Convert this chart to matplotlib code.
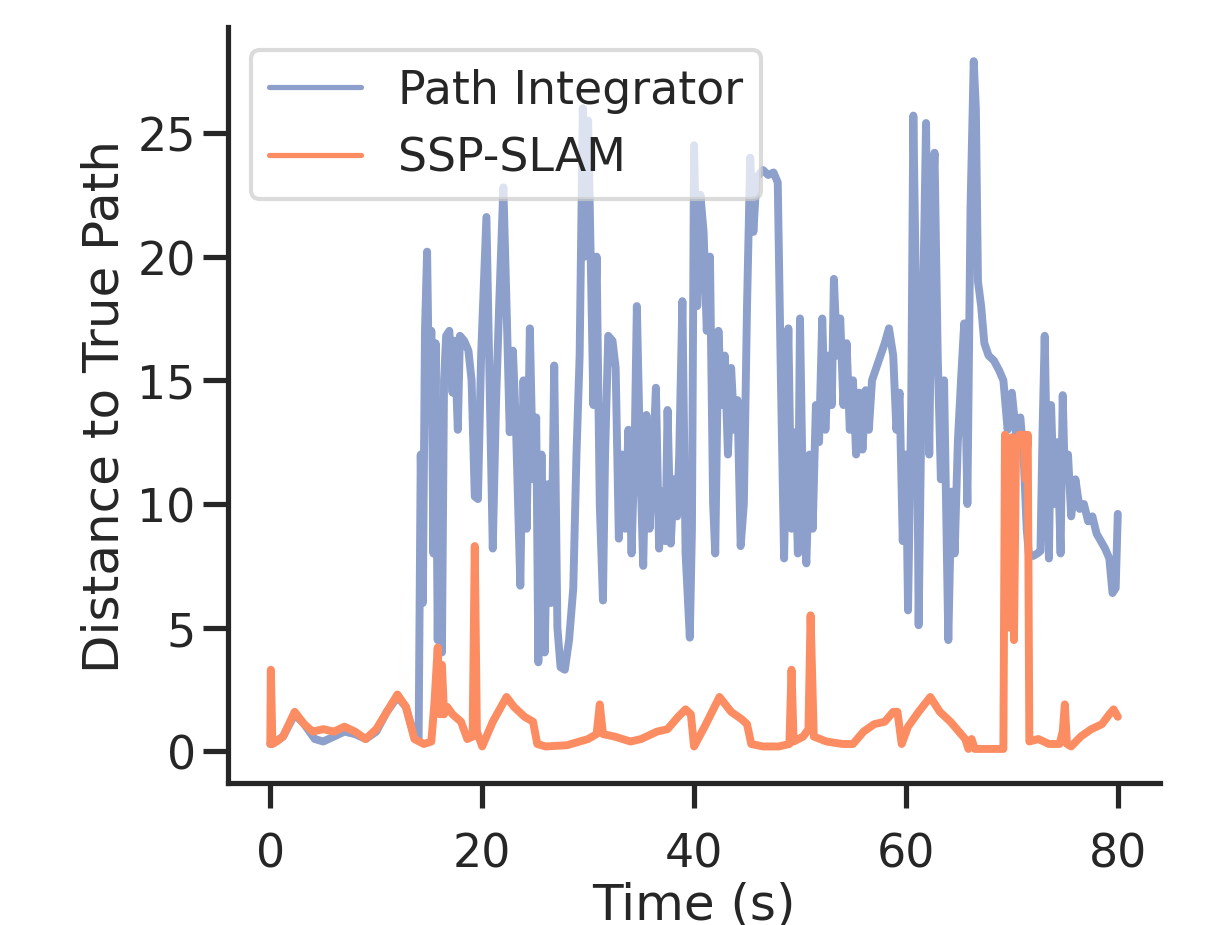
"""Distance to true path: path integrator vs SSP-SLAM."""

import matplotlib
matplotlib.use('Agg')
import matplotlib.pyplot as plt
import seaborn as sns

# Path Integrator trace (time in s, distance)
pi_time = [
    0.0, 0.5, 1.2, 2.3, 3.2, 4.2, 5.0, 6.0, 7.0, 8.0, 9.0, 10.0, 11.0, 12.0, 12.8, 13.6, 14.0,
    14.2, 14.4, 14.6, 14.8, 15.0, 15.2, 15.4, 15.6, 15.8, 16.0, 16.2, 16.4, 16.6, 16.9, 17.2,
    17.4, 17.7, 17.9, 18.3, 18.7, 19.0, 19.3, 19.6, 19.9, 20.4, 20.7, 21.0, 21.3, 21.6, 22.0,
    22.3, 22.6, 22.9, 23.2, 23.6, 23.9, 24.2, 24.5, 24.8, 25.1, 25.3, 25.6, 25.9, 26.2, 26.5,
    26.8, 27.1, 27.4, 27.8, 28.2, 28.6, 28.9, 29.2, 29.5, 29.7, 30.0, 30.2, 30.5, 30.8, 31.1,
    31.4, 31.6, 31.9, 32.3, 32.6, 32.9, 33.2, 33.5, 33.8, 34.1, 34.4, 34.6, 34.9, 35.2, 35.5,
    35.8, 36.1, 36.4, 36.7, 37.0, 37.3, 37.5, 37.8, 38.1, 38.4, 38.6, 38.9, 39.2, 39.6, 39.8,
    40.0, 40.3, 40.6, 40.9, 41.2, 41.5, 41.8, 42.0, 42.3, 42.6, 42.9, 43.2, 43.5, 43.8, 44.1,
    44.4, 44.7, 45.0, 45.3, 45.6, 45.9, 46.5, 47.0, 47.5, 47.9, 48.2, 48.5, 48.9, 49.2, 49.5,
    49.8, 50.0, 50.3, 50.6, 50.9, 51.2, 51.5, 51.8, 52.1, 52.4, 52.7, 53.0, 53.2, 53.5, 53.8,
    54.1, 54.4, 54.7, 55.0, 55.3, 55.6, 55.9, 56.2, 56.5, 56.8, 57.2, 57.6, 58.0, 58.4, 58.8,
    59.1, 59.4, 59.7, 60.0, 60.2, 60.5, 60.7, 61.0, 61.2, 61.5, 61.9, 62.2, 62.5, 62.7, 63.0,
    63.3, 63.6, 64.0, 64.3, 64.6, 64.9, 65.2, 65.5, 65.8, 66.1, 66.4, 66.6, 66.8, 67.1, 67.4,
    67.8, 68.3, 68.8, 69.2, 69.6, 70.0, 70.4, 70.8, 71.1, 71.4, 71.6, 72.0, 72.4, 72.7, 72.9,
    73.1, 73.3, 73.5, 73.7, 74.0, 74.3, 74.6, 74.8, 75.0, 75.3, 75.6, 76.0, 76.4, 76.8, 77.2,
    77.6, 78.0, 78.4, 78.8, 79.2, 79.5, 79.8, 80.0,
]
pi_dist = [
    0.3, 0.4, 0.6, 1.5, 1.1, 0.5, 0.4, 0.6, 0.8, 0.7, 0.5, 0.8, 1.6, 2.2, 1.8, 0.6, 0.5,
    12.0, 6.0, 17.0, 20.2, 14.0, 17.0, 8.0, 16.5, 4.5, 12.0, 4.0, 15.0, 16.8, 17.0, 14.5,
    16.6, 13.0, 16.8, 16.6, 16.2, 15.0, 10.3, 10.2, 16.0, 21.6, 15.0, 8.2, 14.0, 18.0, 22.8,
    18.0, 12.9, 16.2, 13.0, 6.7, 15.0, 9.0, 17.1, 11.0, 13.5, 3.6, 12.0, 4.0, 10.8, 6.0,
    15.6, 5.0, 3.4, 3.3, 4.5, 6.6, 12.0, 16.0, 26.0, 20.0, 25.5, 21.0, 14.0, 20.0, 10.0,
    6.1, 12.0, 16.8, 16.6, 15.5, 8.6, 12.0, 9.0, 13.0, 8.0, 12.5, 18.0, 12.0, 7.5, 13.6,
    9.0, 11.5, 14.7, 8.2, 10.5, 8.5, 13.8, 8.4, 11.0, 9.5, 12.0, 18.2, 8.0, 4.6, 9.0,
    24.5, 18.0, 22.5, 21.0, 17.0, 20.0, 10.0, 8.0, 17.0, 14.0, 16.0, 12.0, 15.5, 13.0, 14.2,
    8.3, 10.0, 18.0, 24.0, 21.0, 23.2, 23.5, 23.3, 23.4, 23.0, 15.0, 7.8, 17.1, 9.0, 12.9,
    8.0, 17.5, 9.5, 7.6, 12.0, 9.0, 14.0, 12.5, 17.5, 13.0, 16.0, 14.0, 19.1, 16.0, 17.5,
    14.0, 16.5, 13.0, 15.0, 12.0, 14.5, 12.2, 14.6, 13.0, 15.0, 15.5, 16.0, 16.5, 17.1, 16.0,
    13.0, 14.5, 8.5, 12.0, 5.7, 14.0, 25.7, 17.0, 5.1, 15.0, 25.4, 12.0, 22.0, 24.2, 16.0,
    11.0, 15.0, 4.5, 10.5, 8.0, 12.5, 15.0, 17.3, 10.0, 22.0, 27.9, 26.0, 19.0, 18.0, 16.5,
    16.0, 15.8, 15.4, 15.0, 13.0, 14.5, 12.8, 13.5, 12.0, 9.0, 8.0, 7.9, 8.0, 8.1, 13.0,
    16.8, 12.0, 7.8, 14.0, 10.0, 12.5, 8.0, 14.4, 11.0, 12.0, 9.5, 11.0, 9.8, 10.0, 9.3,
    9.5, 8.8, 8.5, 8.2, 7.8, 6.4, 6.6, 9.6,
]

# SSP-SLAM trace
slam_time = [
    0.0, 0.05, 0.2, 0.6, 1.2, 2.3, 3.2, 4.0, 5.0, 6.0, 7.0, 8.0, 9.0, 10.0, 11.0, 12.0, 12.8,
    13.6, 14.5, 15.2, 15.5, 15.8, 16.0, 16.2, 16.4, 16.7, 17.2, 18.0, 18.6, 19.1, 19.3, 19.5,
    20.0, 21.0, 22.3, 23.0, 24.0, 24.8, 25.2, 26.0, 28.0, 30.0, 30.8, 31.1, 31.4, 32.5, 34.0,
    35.0, 36.5, 37.5, 38.5, 39.2, 39.7, 40.0, 41.0, 42.4, 43.5, 44.5, 45.0, 45.4, 46.5, 48.0,
    49.0, 49.2, 49.4, 50.3, 50.8, 51.0, 51.3, 52.5, 54.0, 55.0, 56.0, 57.0, 58.0, 58.8, 59.2,
    59.6, 60.2, 61.2, 62.3, 63.2, 64.2, 65.0, 65.6, 65.9, 66.2, 66.5, 67.5, 68.5, 69.2, 69.35,
    69.5, 69.65, 69.8, 70.0, 70.2, 70.4, 70.7, 71.1, 71.3, 71.5, 71.65, 72.5, 73.5, 74.5, 74.8,
    75.0, 75.2, 75.6, 76.5, 77.5, 78.5, 79.2, 79.6, 80.0,
]
slam_dist = [
    0.3, 3.3, 0.3, 0.4, 0.6, 1.6, 1.1, 0.8, 0.9, 0.8, 1.0, 0.8, 0.5, 0.9, 1.6, 2.3, 1.8,
    0.5, 0.3, 0.4, 2.0, 4.2, 1.5, 3.5, 1.5, 1.8, 1.5, 1.2, 0.5, 0.6, 8.3, 0.8,
    0.2, 1.2, 2.2, 1.8, 1.4, 1.2, 0.3, 0.2, 0.25, 0.5, 0.7, 1.9, 0.7, 0.6, 0.4,
    0.5, 0.8, 0.9, 1.4, 1.7, 1.5, 0.2, 1.0, 2.2, 1.6, 1.3, 1.1, 0.3, 0.2, 0.2,
    0.3, 3.3, 0.4, 0.6, 0.9, 5.5, 0.6, 0.4, 0.3, 0.3, 0.8, 1.1, 1.2, 1.6, 1.6,
    0.3, 1.0, 1.6, 2.2, 1.6, 1.2, 0.8, 0.5, 0.1, 0.5, 0.1, 0.1, 0.1, 0.1, 12.8,
    7.0, 12.6, 5.0, 12.7, 4.5, 12.5, 12.8, 12.8, 11.0, 12.8, 0.4, 0.5, 0.3, 0.3, 0.8,
    1.9, 0.3, 0.2, 0.6, 0.9, 1.1, 1.5, 1.7, 1.4,
]

sns.set_theme(context='poster', style='ticks')
pal = sns.color_palette('Set2')

fig, ax = plt.subplots(figsize=(8.04, 6.1733), dpi=150)
fig.subplots_adjust(left=0.189, right=0.962, bottom=0.153, top=0.970)

ax.plot(pi_time, pi_dist, color=pal[2], lw=3.8, label='Path Integrator')
ax.plot(slam_time, slam_dist, color=pal[1], lw=3.8, label='SSP-SLAM')

ax.set_xlabel('Time (s)', labelpad=2)
ax.set_ylabel('Distance to True Path')
ax.set_xticks([0, 20, 40, 60, 80])
ax.set_yticks([0, 5, 10, 15, 20, 25])
ax.tick_params(axis='x', pad=11)
leg = ax.legend(loc='upper left', framealpha=0.7)
for line in leg.get_lines():
    line.set_linewidth(2.5)
sns.despine(ax=ax)

fig.savefig('out.png', dpi=150)
